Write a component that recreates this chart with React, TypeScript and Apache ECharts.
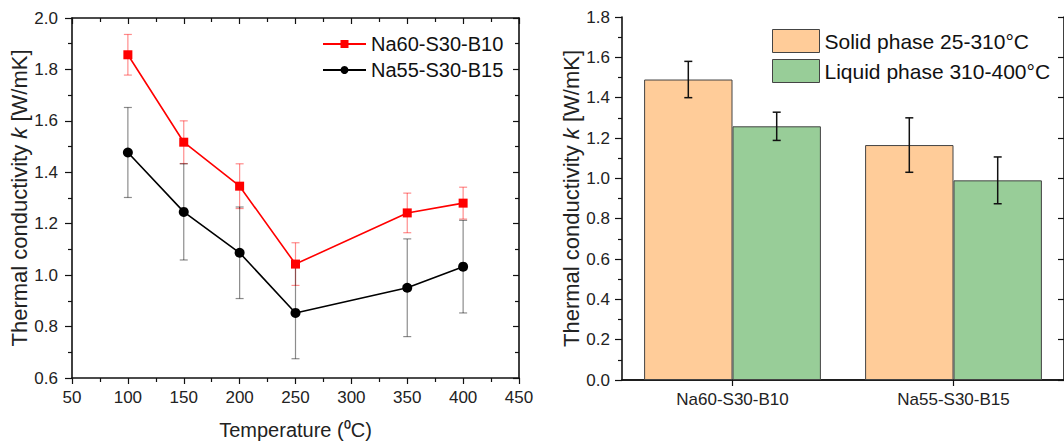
import React, { useEffect, useRef } from "react";
import * as echarts from "echarts";

const FONT = "'Liberation Sans', Arial, sans-serif";

// Left chart data
const temperatures = [100, 150, 200, 250, 350, 400];
const na60Values = [1.857, 1.517, 1.346, 1.043, 1.242, 1.28];
const na60Errors = [0.079, 0.083, 0.087, 0.083, 0.077, 0.062];
const na55Values = [1.477, 1.246, 1.087, 0.853, 0.951, 1.033];
const na55Errors = [0.175, 0.187, 0.178, 0.178, 0.19, 0.18];

// Right chart data
const compositions = ["Na60-S30-B10", "Na55-S30-B15"];
const solidValues = [1.49, 1.165];
const solidErrors = [0.09, 0.135];
const liquidValues = [1.258, 0.99];
const liquidErrors = [0.07, 0.116];

const SER_NA60 = "Na60-S30-B10";
const SER_NA55 = "Na55-S30-B15";
const SER_SOLID = "Solid phase 25-310°C";
const SER_LIQUID = "Liquid phase 310-400°C";

const yTitle = "Thermal conductivity {i|k} [W/mK]";

function errorRenderer(color: string, cap: number, lw: number) {
  return (params: any, api: any) => {
    const x = api.value(0);
    const lo = api.value(1);
    const hi = api.value(2);
    const p1 = api.coord([x, hi]);
    const p2 = api.coord([x, lo]);
    const st = { stroke: color, lineWidth: lw };
    return {
      type: "group",
      children: [
        { type: "line", shape: { x1: p1[0], y1: p1[1], x2: p2[0], y2: p2[1] }, style: st },
        { type: "line", shape: { x1: p1[0] - cap, y1: p1[1], x2: p1[0] + cap, y2: p1[1] }, style: st },
        { type: "line", shape: { x1: p2[0] - cap, y1: p2[1], x2: p2[0] + cap, y2: p2[1] }, style: st },
      ],
    };
  };
}

function barErrorRenderer(sign: number) {
  return (params: any, api: any) => {
    const idx = api.value(0);
    const lo = api.value(1);
    const hi = api.value(2);
    const band = api.size([1, 0])[0];
    const off = sign * band * 0.2;
    const p1 = api.coord([idx, hi]);
    const p2 = api.coord([idx, lo]);
    const x = p1[0] + off;
    const cap = 4;
    const st = { stroke: "#111", lineWidth: 1.5 };
    return {
      type: "group",
      children: [
        { type: "line", shape: { x1: x, y1: p1[1], x2: x, y2: p2[1] }, style: st },
        { type: "line", shape: { x1: x - cap, y1: p1[1], x2: x + cap, y2: p1[1] }, style: st },
        { type: "line", shape: { x1: x - cap, y1: p2[1], x2: x + cap, y2: p2[1] }, style: st },
      ],
    };
  };
}

export default function App() {
  const ref = useRef<HTMLDivElement>(null);

  useEffect(() => {
    if (!ref.current) return;
    const chart = echarts.init(ref.current, undefined, { renderer: "svg" });

    const axisLine = { show: true, lineStyle: { color: "#111", width: 1.6 } };
    const nameStyle = {
      color: "#222",
      fontFamily: FONT,
      fontSize: 22,
      rich: { i: { fontStyle: "italic", fontSize: 22, fontFamily: FONT, color: "#222" } },
    };
    const tickLabel = (margin: number, extra: any = {}) => ({
      show: true,
      color: "#222",
      fontFamily: FONT,
      fontSize: 17,
      margin,
      ...extra,
    });

    const option: any = {
      animation: false,
      backgroundColor: "#fff",
      textStyle: { fontFamily: FONT },
      grid: [
        { left: 72, top: 18, width: 447, height: 362, containLabel: false },
        { left: 622, top: 17, width: 444, height: 363, containLabel: false },
      ],
      legend: [
        {
          data: [SER_NA60, SER_NA55],
          left: 322,
          top: 34,
          orient: "vertical",
          padding: 0,
          itemWidth: 43,
          itemHeight: 10,
          itemGap: 6,
          textStyle: { fontSize: 20, fontFamily: FONT, color: "#111", lineHeight: 20 },
        },
        {
          data: [SER_SOLID, SER_LIQUID],
          left: 772,
          top: 29,
          orient: "vertical",
          padding: 0,
          icon: "rect",
          itemWidth: 47,
          itemHeight: 23,
          itemGap: 6,
          itemStyle: { borderColor: "#444", borderWidth: 1 },
          textStyle: { fontSize: 21, fontFamily: FONT, color: "#111", lineHeight: 23 },
        },
      ],
      xAxis: [
        {
          gridIndex: 0,
          type: "value",
          position: "bottom",
          min: 50,
          max: 450,
          interval: 50,
          axisLine,
          axisTick: { show: true, inside: false, length: 6, lineStyle: { color: "#111", width: 1.2 } },
          minorTick: { show: true, splitNumber: 2, length: 4, lineStyle: { color: "#111", width: 1.2 } },
          splitLine: { show: false },
          axisLabel: tickLabel(11),
          name: "Temperature (⁰C)",
          nameLocation: "middle",
          nameGap: 42,
          nameTextStyle: { ...nameStyle, fontSize: 20 },
        },
        {
          gridIndex: 0,
          type: "value",
          position: "top",
          min: 50,
          max: 450,
          interval: 50,
          axisLine,
          axisTick: { show: true, inside: true, length: 6, lineStyle: { color: "#111", width: 1.2 } },
          minorTick: { show: true, splitNumber: 2, length: 4, lineStyle: { color: "#111", width: 1.2 } },
          splitLine: { show: false },
          axisLabel: { show: false },
        },
        {
          gridIndex: 1,
          type: "category",
          position: "bottom",
          data: compositions,
          axisLine,
          axisTick: { show: true, alignWithLabel: true, inside: false, length: 6, lineStyle: { color: "#111", width: 1.2 } },
          splitLine: { show: false },
          axisLabel: tickLabel(11),
        },
        {
          gridIndex: 1,
          type: "category",
          position: "top",
          data: compositions,
          axisLine,
          axisTick: { show: false },
          axisLabel: { show: false },
        },
      ],
      yAxis: [
        {
          gridIndex: 0,
          type: "value",
          position: "left",
          min: 0.6,
          max: 2.0,
          interval: 0.2,
          axisLine,
          axisTick: { show: true, inside: false, length: 7, lineStyle: { color: "#111", width: 1.2 } },
          minorTick: { show: true, splitNumber: 2, length: 4, lineStyle: { color: "#111", width: 1.2 } },
          splitLine: { show: false },
          axisLabel: tickLabel(14, { formatter: (v: number) => v.toFixed(1) }),
          name: yTitle,
          nameLocation: "middle",
          nameGap: 40,
          nameTextStyle: { ...nameStyle },
        },
        {
          gridIndex: 0,
          type: "value",
          position: "right",
          min: 0.6,
          max: 2.0,
          interval: 0.2,
          axisLine,
          axisTick: { show: true, inside: true, length: 6, lineStyle: { color: "#111", width: 1.2 } },
          minorTick: { show: true, splitNumber: 2, length: 4, lineStyle: { color: "#111", width: 1.2 } },
          splitLine: { show: false },
          axisLabel: { show: false },
        },
        {
          gridIndex: 1,
          type: "value",
          position: "left",
          min: 0,
          max: 1.8,
          interval: 0.2,
          axisLine,
          axisTick: { show: true, inside: false, length: 7, lineStyle: { color: "#111", width: 1.2 } },
          minorTick: { show: true, splitNumber: 2, length: 4, lineStyle: { color: "#111", width: 1.2 } },
          splitLine: { show: false },
          axisLabel: tickLabel(12, { formatter: (v: number) => v.toFixed(1) }),
          name: yTitle,
          nameLocation: "middle",
          nameGap: 38,
          nameTextStyle: { ...nameStyle },
        },
        {
          gridIndex: 1,
          type: "value",
          position: "right",
          min: 0,
          max: 1.8,
          interval: 0.2,
          axisLine,
          axisTick: { show: true, inside: true, length: 6, lineStyle: { color: "#111", width: 1.2 } },
          splitLine: { show: false },
          axisLabel: { show: false },
        },
      ],
      series: [
        {
          name: "na60-err",
          type: "custom",
          xAxisIndex: 0,
          yAxisIndex: 0,
          renderItem: errorRenderer("rgba(255,0,0,0.45)", 4, 1.2),
          encode: { x: 0, y: [1, 2] },
          data: temperatures.map((t, i) => [t, na60Values[i] - na60Errors[i], na60Values[i] + na60Errors[i]]),
          z: 1,
        },
        {
          name: "na55-err",
          type: "custom",
          xAxisIndex: 0,
          yAxisIndex: 0,
          renderItem: errorRenderer("rgba(0,0,0,0.45)", 4, 1.2),
          encode: { x: 0, y: [1, 2] },
          data: temperatures.map((t, i) => [t, na55Values[i] - na55Errors[i], na55Values[i] + na55Errors[i]]),
          z: 1,
        },
        {
          name: SER_NA60,
          type: "line",
          xAxisIndex: 0,
          yAxisIndex: 0,
          data: temperatures.map((t, i) => [t, na60Values[i]]),
          symbol: "rect",
          symbolSize: 9,
          color: "#ff0000",
          lineStyle: { color: "#ff0000", width: 1.6 },
          itemStyle: { color: "#ff0000" },
          z: 3,
        },
        {
          name: SER_NA55,
          type: "line",
          xAxisIndex: 0,
          yAxisIndex: 0,
          data: temperatures.map((t, i) => [t, na55Values[i]]),
          symbol: "circle",
          symbolSize: 10,
          color: "#000",
          lineStyle: { color: "#000", width: 1.6 },
          itemStyle: { color: "#000" },
          z: 3,
        },
        {
          name: SER_SOLID,
          type: "bar",
          xAxisIndex: 2,
          yAxisIndex: 2,
          data: solidValues,
          barWidth: "40%",
          barGap: "0%",
          color: "#FFCC99",
          itemStyle: { color: "#FFCC99", borderColor: "#444", borderWidth: 1 },
          z: 2,
        },
        {
          name: SER_LIQUID,
          type: "bar",
          xAxisIndex: 2,
          yAxisIndex: 2,
          data: liquidValues,
          barWidth: "40%",
          barGap: "0%",
          color: "#98CD98",
          itemStyle: { color: "#98CD98", borderColor: "#444", borderWidth: 1 },
          z: 2,
        },
        {
          name: "solid-err",
          type: "custom",
          xAxisIndex: 2,
          yAxisIndex: 2,
          renderItem: barErrorRenderer(-1),
          encode: { x: 0, y: [1, 2] },
          data: solidValues.map((v, i) => [i, v - solidErrors[i], v + solidErrors[i]]),
          z: 5,
        },
        {
          name: "liquid-err",
          type: "custom",
          xAxisIndex: 2,
          yAxisIndex: 2,
          renderItem: barErrorRenderer(1),
          encode: { x: 0, y: [1, 2] },
          data: liquidValues.map((v, i) => [i, v - liquidErrors[i], v + liquidErrors[i]]),
          z: 5,
        },
      ],
    };

    chart.setOption(option);
    return () => chart.dispose();
  }, []);

  return (
    <div
      ref={ref}
      style={{ position: "absolute", left: 0, top: 0, width: 1064, height: 445, background: "#fff" }}
    />
  );
}
